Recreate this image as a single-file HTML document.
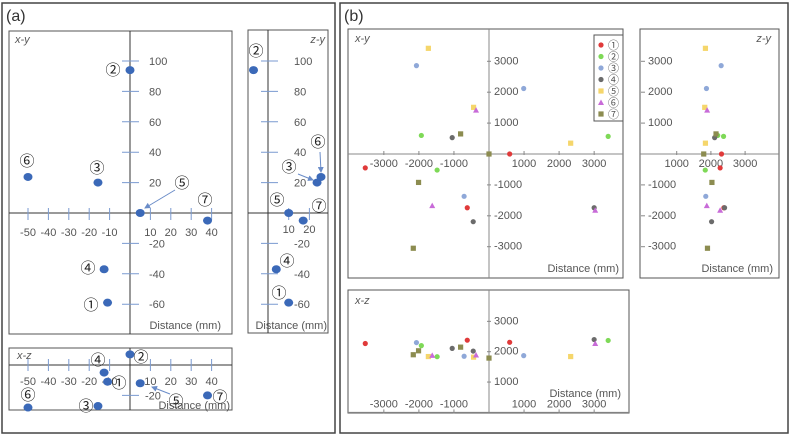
<!DOCTYPE html>
<html><head><meta charset="utf-8">
<style>
html,body{margin:0;padding:0;background:#fff;}
svg{display:block;font-family:"Liberation Sans","Noto Sans CJK JP",sans-serif;}
.tk{fill:#555;font-size:11px;}
.cn{fill:#222;font-size:15px;font-family:"Liberation Sans","Noto Sans CJK JP",sans-serif;}
</style></head>
<body>
<svg id="fig" width="792" height="436" viewBox="0 0 792 436">
<defs><marker id="ah" markerWidth="6" markerHeight="6" refX="5" refY="3" orient="auto"><path d="M0,0 L6,3 L0,6 z" fill="#6a8cc8"/></marker></defs>
<rect x="2" y="3" width="333" height="430" fill="none" stroke="#444" stroke-width="1.5"/>
<rect x="340" y="3" width="448" height="430" fill="none" stroke="#444" stroke-width="1.5"/>
<text x="6" y="21" font-size="16" fill="#333">(a)</text>
<text x="344" y="21" font-size="16" fill="#333">(b)</text>
<g id="root"></g>
</svg>
<script>
// ---- Panel (a) data (mm) ----
const aLabels = ['①','②','③','④','⑤','⑥','⑦'];
const aX = [-11, 0, -15.7, -12.7, 5, -50, 38];
const aY = [-59, 94, 20, -37, 0, 23.7, -5];
const aZ = [-11, 7, -27, -5, -12, -28, -20];
const aXTicks = [-50,-40,-30,-20,-10,10,20,30,40];
const aYTicks = [100,80,60,40,20,-20,-40,-60];
const aZYXTicks = [10,20];
const aXZYTicks = [-20];
// ---- Panel (b) data (mm) ----
const bNames = ['①','②','③','④','⑤','⑥','⑦'];
const bColors = ['#e03a3a','#7ed957','#8fa8d8','#6b6b6b','#f5d66b','#c86bd8','#8c8c50'];
const bShapes = ['circle','circle','circle','circle','square','triangle','square'];
const bX = [[-3530,590,-620],[-1930,-1480,3400],[-2070,990,-710],[-1050,-450,3000],[-1730,-440,2330],[-370,-1620,3030],[-810,0,-2010,-2160]];
const bY = [[-450,0,-1740],[600,-520,570],[2860,2120,-1370],[530,-2190,-1740],[3420,1510,350],[1420,-1670,-1820],[650,0,-920,-3050]];
const bZ = [[2270,2310,2380],[2200,1835,2370],[2300,1870,1850],[2110,2020,2400],[1840,1820,1840],[1890,1880,2270],[2150,1790,2030,1900]];
const bXTicks = [-3000,-2000,-1000,1000,2000,3000];
const bYTicks = [3000,2000,1000,-1000,-2000,-3000];
const bZTicks = [1000,2000,3000];
const bZYTicks = [3000,2000,1000];

const NS='http://www.w3.org/2000/svg';
const root=document.getElementById('root');
function mk(tag,attrs,parent,txt){const e=document.createElementNS(NS,tag);for(const k in attrs)e.setAttribute(k,attrs[k]);if(txt!==undefined)e.textContent=txt;(parent||root).appendChild(e);return e;}
function lin(d0,d1,p0,p1){return v=>p0+(v-d0)*(p1-p0)/(d1-d0);}

// ---------- Panel (a) ----------
const ax=lin(0,10,130,150.4), ay=lin(0,20,213,182.6);
const zx=lin(0,10,268,288.7);
const xzY=lin(0,-20,365,395.4);
function frame(x,y,w,h,name){const r=mk('rect',{x,y,width:w,height:h,fill:'none',stroke:'#555','stroke-width':1});}
function line(x1,y1,x2,y2,stroke,name,sw){const l=mk('line',{x1,y1,x2,y2,stroke,'stroke-width':sw||1});return l;}
function text(x,y,s,cls,name,anchor){const t=mk('text',{x,y,class:cls,'text-anchor':anchor||'middle'},root,s);return t;}
function dotA(x,y,name){const c=mk('ellipse',{cx:x,cy:y,rx:4.5,ry:4,fill:'#3b69b8'});}
function arrow(x1,y1,x2,y2,name){const l=mk('line',{x1,y1,x2,y2,stroke:'#6a8cc8','stroke-width':1,'marker-end':'url(#ah)'});}

// a: x-y
frame(9,31,223,303,'a-xy-plot-frame');
line(9,ay(0),232,ay(0),'#333','a-xy-x-axis');
line(ax(0),31,ax(0),334,'#333','a-xy-y-axis');
aXTicks.forEach(v=>{line(ax(v),208,ax(v),220,'#7a9ad0','a-xy-x-tick');text(ax(v),236,String(v),'tk','a-xy-x-tick-label');});
aYTicks.forEach(v=>{line(122,ay(v),139,ay(v),'#7a9ad0','a-xy-y-tick');text(149,ay(v)+4,String(v),'tk','a-xy-y-tick-label','start');});
text(15,43,'x-y','tk','a-xy-title','start').setAttribute('font-style','italic');
text(221,329,'Distance (mm)','tk','a-xy-axis-title','end').setAttribute('fill','#222');
aX.forEach((v,i)=>dotA(ax(v),ay(aY[i]),'a-xy-point-'+(i+1)));
const aXYLab=[[91,310],[113,75],[97,173],[88,273],[182,188],[27,166],[205,205]];
aLabels.forEach((s,i)=>text(aXYLab[i][0],aXYLab[i][1],s,'cn','a-xy-point-label'));
arrow(175,190,145,208,'a-xy-arrow-5');

// a: z-y
frame(248,30,80,303,'a-zy-plot-frame');
line(248,ay(0),328,ay(0),'#333','a-zy-x-axis');
line(zx(0),30,zx(0),333,'#333','a-zy-y-axis');
aZYXTicks.forEach(v=>{line(zx(v),208,zx(v),220,'#7a9ad0','a-zy-x-tick');text(zx(v),233,String(v),'tk','a-zy-x-tick-label');});
aYTicks.forEach(v=>{line(261,ay(v),278,ay(v),'#7a9ad0','a-zy-y-tick');text(294,ay(v)+4,String(v),'tk','a-zy-y-tick-label','start');});
text(325,43,'z-y','tk','a-zy-title','end').setAttribute('font-style','italic');
text(327,329,'Distance (mm)','tk','a-zy-axis-title','end').setAttribute('fill','#222');
aZ.forEach(()=>{});
const aZYz=[10,-7,23.7,4,10,25.6,17];
aZYz.forEach((v,i)=>dotA(zx(v),ay(aY[i]),'a-zy-point-'+(i+1)));
const aZYLab=[[279,298],[256,56],[289,172],[287,266],[277,205],[318,147],[319,211]];
aLabels.forEach((s,i)=>text(aZYLab[i][0],aZYLab[i][1],s,'cn','a-zy-point-label'));
arrow(298,174,313,180,'a-zy-arrow-3');
arrow(320,152,321,172,'a-zy-arrow-6');

// a: x-z
frame(9,348,223,62,'a-xz-plot-frame');
line(9,xzY(0),232,xzY(0),'#333','a-xz-x-axis');
line(ax(0),348,ax(0),410,'#333','a-xz-y-axis');
aXTicks.forEach(v=>{line(ax(v),359,ax(v),371,'#7a9ad0','a-xz-x-tick');text(ax(v),385,String(v),'tk','a-xz-x-tick-label');});
aXZYTicks.forEach(v=>{line(122,xzY(v),139,xzY(v),'#7a9ad0','a-xz-y-tick');text(145,xzY(v)+4,String(v),'tk','a-xz-y-tick-label','start');});
text(17,359,'x-z','tk','a-xz-title','start').setAttribute('font-style','italic');
text(230,409,'Distance (mm)','tk','a-xz-axis-title','end').setAttribute('fill','#222');
aX.forEach((v,i)=>dotA(ax(v),xzY(aZ[i]),'a-xz-point-'+(i+1)));
const aXZLab=[[119,388],[141,362],[86,411],[98,365],[176,406],[28,400],[220,402]];
aLabels.forEach((s,i)=>text(aXZLab[i][0],aXZLab[i][1],s,'cn','a-xz-point-label'));
arrow(170,394,152,387,'a-xz-arrow-5');

// ---------- Panel (b) ----------
const bx=lin(0,1000,489,524.05), by=lin(0,1000,154,123.1);
const bzx=lin(0,1000,642.5,676.7);
const bzy=lin(0,1000,412.4,382.05);
function mark(x,y,si,name){
  const col=bColors[si], sh=bShapes[si]; let e;
  if(sh==='circle') e=mk('circle',{cx:x,cy:y,r:2.6,fill:col});
  else if(sh==='square') e=mk('rect',{x:x-2.6,y:y-2.6,width:5.2,height:5.2,fill:col});
  else e=mk('polygon',{points:`${x},${y-3} ${x+3},${y+2.5} ${x-3},${y+2.5}`,fill:col});
  
  
}
// b: x-y
frame(348,29,275,249,'b-xy-plot-frame');
line(348,by(0),623,by(0),'#888','b-xy-x-axis');
line(bx(0),29,bx(0),278,'#888','b-xy-y-axis');
bXTicks.forEach(v=>{line(bx(v),by(0)-3,bx(v),by(0)+1,'#888','b-xy-x-tick');text(bx(v),by(0)+13,String(v),'tk','b-xy-x-tick-label').setAttribute('font-size','9');});
bYTicks.forEach(v=>{line(bx(0)-2,by(v),bx(0)+2,by(v),'#888','b-xy-y-tick');text(bx(0)+5,by(v)+3,String(v),'tk','b-xy-y-tick-label','start').setAttribute('font-size','9');});
text(355,42,'x-y','tk','b-xy-title','start').setAttribute('font-style','italic');
text(619,272,'Distance (mm)','tk','b-xy-axis-title','end').setAttribute('fill','#222');
bX.forEach((arr,si)=>arr.forEach((v,j)=>mark(bx(v),by(bY[si][j]),si,'b-xy-point-s'+(si+1))));
// legend
frame(594,35,29,86,'b-legend');
bNames.forEach((s,i)=>{mark(601,45+i*11.5,i,'b-legend-marker');const t=text(608,49+i*11.5,s,'tk','b-legend-label','start');t.setAttribute('font-size','11');});

// b: z-y
frame(640,29,139,249,'b-zy-plot-frame');
line(640,by(0),779,by(0),'#888','b-zy-x-axis');
[1000,2000,3000].forEach(v=>{line(bzx(v),by(0)-3,bzx(v),by(0)+1,'#888','b-zy-x-tick');text(bzx(v),by(0)+13,String(v),'tk','b-zy-x-tick-label').setAttribute('font-size','9');});
bYTicks.forEach(v=>{line(641,by(v),645,by(v),'#888','b-zy-y-tick');text(648,by(v)+3,String(v),'tk','b-zy-y-tick-label','start').setAttribute('font-size','9');});
text(771,42,'z-y','tk','b-zy-title','end').setAttribute('font-style','italic');
text(773,272,'Distance (mm)','tk','b-zy-axis-title','end').setAttribute('fill','#222');
bZ.forEach((arr,si)=>arr.forEach((v,j)=>mark(bzx(v),by(bY[si][j]),si,'b-zy-point-s'+(si+1))));

// b: x-z
frame(348,290,281,123,'b-xz-plot-frame');
line(348,bzy(0),629,bzy(0),'#888','b-xz-x-axis');
line(bx(0),290,bx(0),413,'#888','b-xz-y-axis');
bXTicks.forEach(v=>{line(bx(v),bzy(0)-3,bx(v),bzy(0)+1,'#888','b-xz-x-tick');text(bx(v),bzy(0)-5,String(v),'tk','b-xz-x-tick-label').setAttribute('font-size','9');});
bZTicks.forEach(v=>{line(bx(0)-2,bzy(v),bx(0)+2,bzy(v),'#888','b-xz-y-tick');text(bx(0)+5,bzy(v)+3,String(v),'tk','b-xz-y-tick-label','start').setAttribute('font-size','9');});
text(355,304,'x-z','tk','b-xz-title','start').setAttribute('font-style','italic');
text(621,397,'Distance (mm)','tk','b-xz-axis-title','end').setAttribute('fill','#222');
bX.forEach((arr,si)=>arr.forEach((v,j)=>mark(bx(v),bzy(bZ[si][j]),si,'b-xz-point-s'+(si+1))));
</script>
</body></html>
